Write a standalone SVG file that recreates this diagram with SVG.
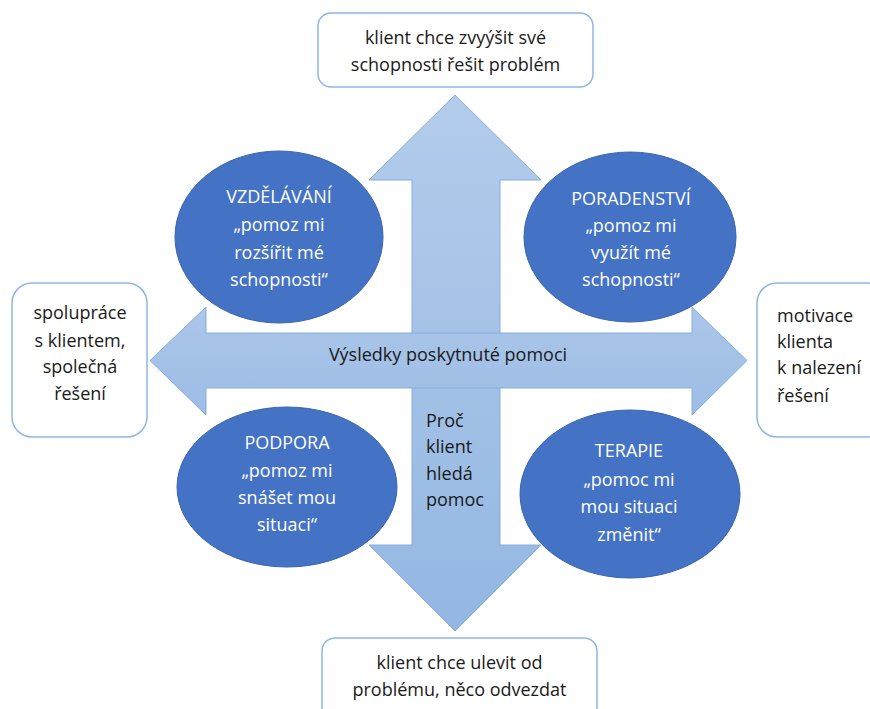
<svg xmlns="http://www.w3.org/2000/svg" width="870" height="709" viewBox="0 0 870 709">
<style>
text{font-family:"Open Sans","Liberation Sans",sans-serif;font-size:18px;}
.box{fill:#fff;stroke:#8fb6e2;stroke-width:1.5;}
.ell{fill:#4472c4;stroke:#3a64ad;stroke-width:1;}
.wt{fill:#fff;text-anchor:middle;}
.bt{fill:#1a1a1a;}
.c{text-anchor:middle;}
.arr{stroke:#86ade0;stroke-width:1;}
</style>
<defs>
<linearGradient id="gv" x1="0" y1="0" x2="0" y2="1">
<stop offset="0" stop-color="#b3cceb"/>
<stop offset="1" stop-color="#93b7e2"/>
</linearGradient>
<linearGradient id="gh" x1="0" y1="0" x2="0" y2="1">
<stop offset="0" stop-color="#abc6e9"/>
<stop offset="1" stop-color="#9dbde5"/>
</linearGradient>
</defs>
<g id="connectors">
<path id="arrow-vertical" class="arr" fill="url(#gv)" d="M455,95 L541,180 L500,180 L500,545 L541,545 L455,631 L369,545 L412,545 L412,180 L369,180 Z"/>
<path id="arrow-horizontal" class="arr" fill="url(#gh)" d="M150,360.5 L206,307 L206,333 L692,333 L692,307 L747,360.5 L692,415 L692,388 L206,388 L206,415 Z"/>
<text class="bt c" x="448" y="361">Výsledky poskytnuté pomoci</text>
<text class="bt" x="426" y="427">Proč</text>
<text class="bt" x="426" y="453">klient</text>
<text class="bt" x="426" y="480">hledá</text>
<text class="bt" x="426" y="506">pomoc</text>
</g>
<g id="box-top">
<rect class="box" x="318" y="13" width="275" height="74" rx="13"/>
<text class="bt c" x="455.5" y="44">klient chce zvyýšit své</text>
<text class="bt c" x="455.5" y="71">schopnosti řešit problém</text>
</g>
<g id="box-bottom">
<rect class="box" x="322" y="638" width="275" height="90" rx="13"/>
<text class="bt c" x="459.5" y="669">klient chce ulevit od</text>
<text class="bt c" x="459.5" y="696">problému, něco odvezdat</text>
</g>
<g id="box-left">
<rect class="box" x="12" y="283" width="135" height="154" rx="20"/>
<text class="bt c" x="80" y="319">spolupráce</text>
<text class="bt c" x="80" y="347">s klientem,</text>
<text class="bt c" x="80" y="373">společná</text>
<text class="bt c" x="80" y="400">řešení</text>
</g>
<g id="box-right">
<rect class="box" x="757" y="283" width="130" height="154" rx="20"/>
<text class="bt" x="777" y="322">motivace</text>
<text class="bt" x="777" y="348">klienta</text>
<text class="bt" x="777" y="374">k nalezení</text>
<text class="bt" x="777" y="402">řešení</text>
</g>
<g id="node-vzdelavani">
<ellipse class="ell" cx="279" cy="237" rx="104" ry="86"/>
<text class="wt" x="279" y="203">VZDĚLÁVÁNÍ</text>
<text class="wt" x="279" y="231">„pomoz mi</text>
<text class="wt" x="279" y="259">rozšířit mé</text>
<text class="wt" x="279" y="286">schopnosti“</text>
</g>
<g id="node-poradenstvi">
<ellipse class="ell" cx="630" cy="237" rx="106" ry="85"/>
<text class="wt" x="631" y="205">PORADENSTVÍ</text>
<text class="wt" x="631" y="232">„pomoz mi</text>
<text class="wt" x="631" y="259">využít mé</text>
<text class="wt" x="631" y="286">schopnosti“</text>
</g>
<g id="node-podpora">
<ellipse class="ell" cx="287" cy="487" rx="110" ry="80"/>
<text class="wt" x="287" y="449">PODPORA</text>
<text class="wt" x="287" y="477">„pomoz mi</text>
<text class="wt" x="287" y="504">snášet mou</text>
<text class="wt" x="287" y="531">situaci“</text>
</g>
<g id="node-terapie">
<ellipse class="ell" cx="630" cy="494" rx="110" ry="84"/>
<text class="wt" x="629" y="457">TERAPIE</text>
<text class="wt" x="629" y="486">„pomoc mi</text>
<text class="wt" x="629" y="513">mou situaci</text>
<text class="wt" x="629" y="541">změnit“</text>
</g>
</svg>
